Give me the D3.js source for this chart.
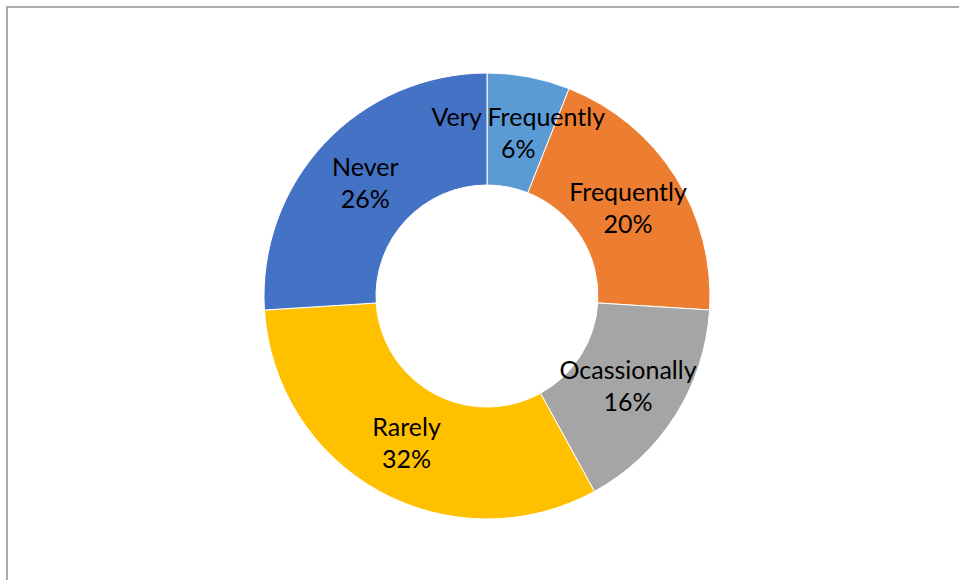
<!DOCTYPE html>
<html>
<head>
<meta charset="utf-8">
<script src="https://cdn.jsdelivr.net/npm/d3@7/dist/d3.min.js"></script>
<style>
  html, body { margin: 0; padding: 0; background: #fff; }
  svg { display: block; }
</style>
</head>
<body>
<svg id="chart" width="959" height="580"></svg>
<script>
const categories = ["Very Frequently", "Frequently", "Ocassionally", "Rarely", "Never"];
const values = [6, 20, 16, 32, 26];
const colors = ["#5B9BD5", "#ED7D31", "#A5A5A5", "#FFC000", "#4472C4"];

const svg = d3.select("#chart");
const W = 959, H = 580;

// frame border (extends past right/bottom of the view)
svg.append("rect")
  .attr("x", 7).attr("y", 7)
  .attr("width", W + 20).attr("height", H + 20)
  .attr("fill", "#fff")
  .attr("stroke", "#ABABAB")
  .attr("stroke-width", 2);

const cx = 487, cy = 296;
const outerR = 223, innerR = 111;

const data = categories.map((c, i) => ({ name: c, value: values[i], color: colors[i] }));
const pie = d3.pie().value(d => d.value).sort(null);
const arc = d3.arc().innerRadius(innerR).outerRadius(outerR);
const labelArc = d3.arc().innerRadius(innerR).outerRadius(outerR);

const g = svg.append("g").attr("transform", `translate(${cx},${cy})`);
const arcs = pie(data);
const total = d3.sum(values);

g.selectAll("path.slice")
  .data(arcs)
  .enter().append("path")
  .attr("class", "slice")
  .attr("d", arc)
  .attr("fill", d => d.data.color)
  .attr("stroke", "#fff")
  .attr("stroke-width", 1);

const labels = g.selectAll("text.label")
  .data(arcs)
  .enter().append("text")
  .attr("class", "label")
  .attr("text-anchor", "middle")
  .attr("font-family", "Lato, 'Open Sans', sans-serif")
  .attr("font-size", 25)
  .attr("fill", "#000")
  .attr("transform", d => `translate(${labelArc.centroid(d)})`);

labels.append("tspan").attr("x", 0).attr("y", -6).text(d => d.data.name);
labels.append("tspan").attr("x", 0).attr("y", 26)
  .text(d => Math.round(d.data.value / total * 100) + "%");
</script>
</body>
</html>
